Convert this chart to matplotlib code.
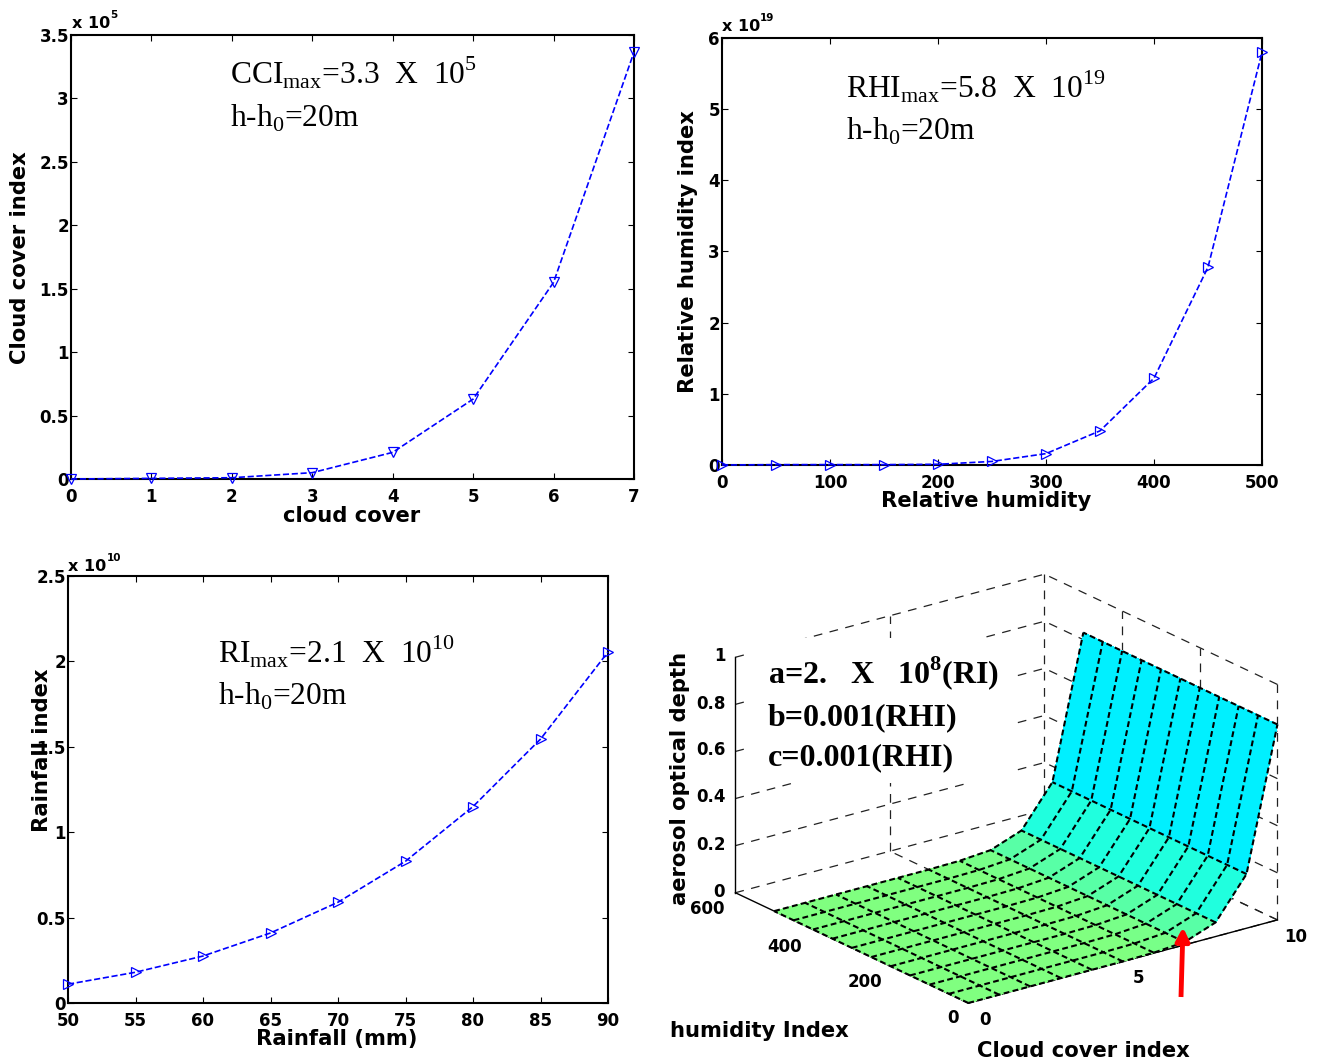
import matplotlib

matplotlib.use("Agg")
import matplotlib.pyplot as plt
import numpy as np
from matplotlib.patches import FancyArrowPatch, Rectangle

plt.rcParams["font.family"] = ["DejaVu Sans"]
plt.rcParams["font.weight"] = "bold"
plt.rcParams["mathtext.fontset"] = "custom"
plt.rcParams["mathtext.rm"] = "Liberation Serif:normal"
plt.rcParams["mathtext.bf"] = "Liberation Serif:bold"

W, H = 1323, 1064

# Cloud cover panel (values in units of 1e5)
cloud_x = [0, 1, 2, 3, 4, 5, 6, 7]
cloud_y = [0.0, 0.005, 0.01, 0.05, 0.21, 0.63, 1.55, 3.365]
cloud_xticks = [0, 1, 2, 3, 4, 5, 6, 7]
cloud_yticks = [0, 0.5, 1, 1.5, 2, 2.5, 3, 3.5]

# Relative humidity panel (values in units of 1e19)
humidity_x = [0, 50, 100, 150, 200, 250, 300, 350, 400, 450, 500]
humidity_y = [0.0, 0.005, 0.005, 0.005, 0.01, 0.05, 0.16, 0.48, 1.22, 2.78, 5.8]
humidity_xticks = [0, 100, 200, 300, 400, 500]
humidity_yticks = [0, 1, 2, 3, 4, 5, 6]

# Rainfall panel (values in units of 1e10)
rain_x = [50, 55, 60, 65, 70, 75, 80, 85, 90]
rain_y = [0.11, 0.18, 0.275, 0.41, 0.59, 0.83, 1.15, 1.545, 2.055]
rain_xticks = [50, 55, 60, 65, 70, 75, 80, 85, 90]
rain_yticks = [0, 0.5, 1, 1.5, 2, 2.5]

# Surface panel: depth only changes along the cloud cover index
surf_cloud = [0, 1, 2, 3, 4, 5, 6, 7, 8, 9, 10]
surf_humidity = [0, 50, 100, 150, 200, 250, 300, 350, 400, 450, 500]
surf_depth = [0, 0, 0, 0, 0, 0, 0.002, 0.012, 0.06, 0.23, 0.83]
cell_colors = ["#80FF80"] * 6 + ["#78FF88", "#58FFA6", "#20FFDE", "#00F0FF"]
surf_xticks = [0, 5, 10]
surf_yticks = [0, 200, 400, 600]
surf_zticks = [0, 0.2, 0.4, 0.6, 0.8, 1]


def px(x, y):
    """Reference pixel position to figure fraction."""
    return x / W, 1 - y / H


def put_text(fig, x, y, s, **kwargs):
    return fig.text(*px(x, y), s, **kwargs)


def line_panel(fig, box, x, y, xticks, yticks, marker, xlim, ylim):
    """Draw one dashed index curve with MATLAB style box and ticks."""
    left, top, right, bottom = box
    ax = fig.add_axes(
        [left / W, 1 - bottom / H, (right - left) / W, (bottom - top) / H]
    )
    ax.plot(
        x,
        y,
        color="#0000FF",
        linestyle="--",
        linewidth=1.2,
        marker=marker,
        markersize=6.5,
        markerfacecolor="none",
        markeredgewidth=0.9,
        clip_on=False,
        zorder=5,
    )
    ax.set_xlim(*xlim)
    ax.set_ylim(*ylim)
    ax.set_xticks(xticks)
    ax.set_yticks(yticks)
    ax.set_xticklabels([f"{t:g}" for t in xticks])
    ax.set_yticklabels([f"{t:g}" for t in yticks])
    ax.tick_params(direction="in", top=True, right=True, length=4, width=0.8, labelsize=12)
    ax.tick_params(axis="x", pad=6.5)
    ax.tick_params(axis="y", pad=1.5)
    for spine in ax.spines.values():
        spine.set_linewidth(1.5)
    return ax


def surface_panel(fig):
    """Draw the 3D aerosol optical depth surface with its dashed grid."""
    ax = fig.add_axes(
        [706 / W, 1 - 1089 / H, 585 / W, 585 / H], projection="3d", proj_type="ortho"
    )
    ax.set_box_aspect((387, 387, 252))
    ax.view_init(elev=20.9, azim=-127)
    ax.computed_zorder = False
    ax.set_axis_off()
    ax.patch.set_alpha(0)
    ax.set_xlim(0, 10, view_margin=0)
    ax.set_ylim(0, 600, view_margin=0)
    ax.set_zlim(0, 1, view_margin=0)

    # Back walls and floor grid
    grid = dict(color="#222222", linestyle=(0, (7, 6)), linewidth=0.9, zorder=1)
    for z in surf_zticks:
        ax.plot([0, 10], [600, 600], [z, z], **grid)
        ax.plot([10, 10], [0, 600], [z, z], **grid)
    for x in [5, 10]:
        ax.plot([x, x], [600, 600], [0, 1], **grid)
        ax.plot([x, x], [0, 600], [0, 0], **grid)
    for y in [0, 200, 400]:
        ax.plot([10, 10], [y, y], [0, 1], **grid)
        ax.plot([0, 10], [y, y], [0, 0], **grid)

    # Solid axis lines
    solid = dict(color="k", linewidth=1.0, zorder=2)
    ax.plot([0, 0], [600, 600], [0, 1], **solid)
    ax.plot([0, 0], [0, 600], [0, 0], **solid)
    ax.plot([0, 10], [0, 0], [0, 0], **solid)
    for y in surf_yticks[1:-1]:
        ax.plot([0, 0.2], [y, y], [0, 0], **solid)
    ax.plot([5, 5], [0, 12], [0, 0], **solid)

    # Surface cells, coloured by cloud cover column
    xs, ys = np.meshgrid(surf_cloud, surf_humidity)
    zs = np.tile(surf_depth, (len(surf_humidity), 1))
    faces = np.array(
        [[matplotlib.colors.to_rgba(c) for c in cell_colors]] * (len(surf_humidity) - 1)
    )
    ax.plot_surface(
        xs,
        ys,
        zs,
        rstride=1,
        cstride=1,
        facecolors=faces,
        shade=False,
        linewidth=0,
        antialiased=False,
        zorder=5,
    )

    # Mesh lines drawn one by one, neighbouring cell edges would blur the dashes
    mesh = dict(color="k", linestyle=(0, (2.8, 1.6)), linewidth=1.5, zorder=6)
    for i in range(len(surf_humidity)):
        ax.plot(xs[i], ys[i], zs[i], **mesh)
    for j in range(len(surf_cloud)):
        ax.plot(xs[:, j], ys[:, j], zs[:, j], **mesh)
    return ax


def add_note(fig, x, y, s):
    put_text(fig, x, y, s, family="Liberation Serif", fontweight="normal",
             fontsize=22.7, va="baseline")


def add_exponent(fig, x, y, x_sup, y_sup, power):
    put_text(fig, x, y, "x 10", fontsize=11.5, va="baseline")
    put_text(fig, x_sup, y_sup, power, fontsize=7.5, va="baseline")


def main():
    fig = plt.figure(figsize=(W / 100, H / 100), dpi=100)

    line_panel(fig, (71, 35, 634, 479), cloud_x, cloud_y, cloud_xticks, cloud_yticks,
               "v", (0, 7), (0, 3.5))
    line_panel(fig, (722, 38, 1262, 465), humidity_x, humidity_y, humidity_xticks,
               humidity_yticks, ">", (0, 500), (0, 6))
    line_panel(fig, (68, 576, 608, 1003), rain_x, rain_y, rain_xticks, rain_yticks,
               ">", (50, 90), (0, 2.5))
    surface_panel(fig)

    # Exponent labels above the y axes
    add_exponent(fig, 72, 28, 110, 18, "5")
    add_exponent(fig, 722, 31, 760, 21, "19")
    add_exponent(fig, 68, 571, 107, 561, "10")

    # Axis titles
    lab = dict(fontsize=15.2, ha="center", va="center")
    put_text(fig, 352, 516, "cloud cover", **lab)
    put_text(fig, 20, 258, "Cloud cover index", rotation=90, **lab)
    put_text(fig, 986, 501, "Relative humidity", **lab)
    put_text(fig, 688, 252, "Relative humidity index", rotation=90, **lab)
    put_text(fig, 337, 1039, "Rainfall (mm)", **lab)
    put_text(fig, 42, 750, "Rainfall index", rotation=90, **lab)
    put_text(fig, 680, 778, "aerosol optical depth", rotation=90, **lab)
    put_text(fig, 759, 1031, "humidity Index", **lab)
    put_text(fig, 1083, 1051, "Cloud cover index", **lab)

    # Tick labels of the 3D panel
    tick = dict(fontsize=12, ha="center", va="center")
    for s, x, y in zip(["1", "0.8", "0.6", "0.4", "0.2", "0"],
                       [720, 711, 711, 711, 711, 719],
                       [656, 704, 750, 797, 845, 892]):
        put_text(fig, x, y, s, **tick)
    for s, x, y in zip(["600", "400", "200", "0"], [707, 785, 865, 953], [909, 947, 982, 1018]):
        put_text(fig, x, y, s, **tick)
    for s, x, y in zip(["0", "5", "10"], [985, 1138, 1296], [1020, 978, 937]):
        put_text(fig, x, y, s, **tick)

    # White text box hides part of the 3D grid, its left edge leaves the z ticks showing
    fig.add_artist(Rectangle(px(744, 783), 272 / W, 145 / H, transform=fig.transFigure,
                             facecolor="white", edgecolor="none", zorder=3))

    # Notes in serif type
    add_note(fig, 230, 84, r"CCI$_{\mathrm{max}}$=3.3  X  10$^{5}$")
    add_note(fig, 230, 127, r"h-h$_{0}$=20m")
    add_note(fig, 846, 98, r"RHI$_{\mathrm{max}}$=5.8  X  10$^{19}$")
    add_note(fig, 846, 140, r"h-h$_{0}$=20m")
    add_note(fig, 218, 663, r"RI$_{\mathrm{max}}$=2.1  X  10$^{10}$")
    add_note(fig, 218, 705, r"h-h$_{0}$=20m")

    bold = dict(family="Liberation Serif", fontweight="bold", fontsize=23,
                va="baseline", zorder=4)
    put_text(fig, 768, 683, r"a=2.   X   10$^{\mathbf{8}}$(RI)", **bold)
    put_text(fig, 768, 725, "b=0.001(RHI)", **bold)
    put_text(fig, 768, 765, "c=0.001(RHI)", **bold)

    # Red arrow pointing at the onset of the rise
    fig.add_artist(FancyArrowPatch(px(1181, 997), px(1183, 927), transform=fig.transFigure,
                                   arrowstyle="-|>", mutation_scale=20, linewidth=3.5,
                                   capstyle="butt", color="#FF0000", shrinkA=0, shrinkB=0,
                                   zorder=6))

    fig.savefig("out.png", dpi=100)
    plt.close(fig)


if __name__ == "__main__":
    main()
